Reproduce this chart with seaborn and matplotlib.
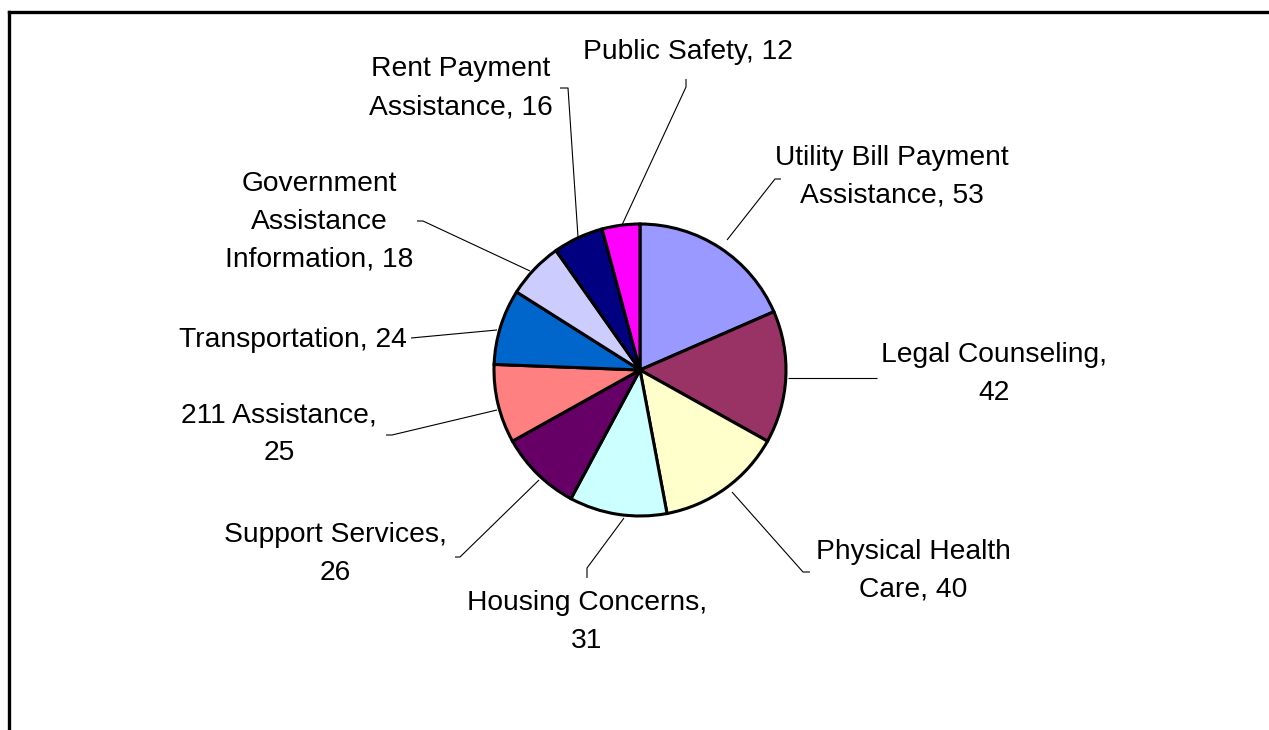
import matplotlib
matplotlib.use("Agg")
import matplotlib.pyplot as plt
import seaborn as sns

categories = ["Utility Bill Payment\nAssistance", "Legal Counseling,\n", "Physical Health\nCare",
              "Housing Concerns,\n", "Support Services,\n", "211 Assistance,\n",
              "Transportation", "Government\nAssistance\nInformation", "Rent Payment\nAssistance",
              "Public Safety"]
values = [53, 42, 40, 31, 26, 25, 24, 18, 16, 12]
colors = ["#9999FF", "#993366", "#FFFFCC", "#CCFFFF", "#660066", "#FF8080",
          "#0066CC", "#CCCCFF", "#000080", "#FF00FF"]

def label_text(cat, v):
    if cat.endswith(",\n"):
        return f"{cat}{v}"
    return f"{cat}, {v}"

# label layout (pixel positions, y from top), leader line points
label_pos = [(892, 177), (994, 374), (913, 571), (587, 622), (335, 554),
             (279, 434), (293, 340), (319, 222), (461, 88), (688, 52)]
leaders = [
    [(727, 240), (775, 179), (781, 179)],
    [(788, 378), (877, 378)],
    [(732, 492), (803, 572), (810, 572)],
    [(624, 518), (587, 568), (587, 578)],
    [(539, 480), (460, 557), (455, 557)],
    [(497, 410), (392, 435), (386, 435)],
    [(497, 330), (411, 338)],
    [(530, 271), (423, 221), (417, 221)],
    [(578, 237), (568, 88), (560, 88)],
    [(622, 225), (686, 87), (686, 79)],
]

sns.set_theme(style="white")
plt.rcParams["font.family"] = ["Liberation Sans", "DejaVu Sans"]

W, H = 1269, 730
fig = plt.figure(figsize=(W / 100, H / 100), dpi=100)
fig.patch.set_facecolor("white")
ax = fig.add_axes([0, 0, 1, 1])

ax.pie(values, colors=colors, startangle=90, counterclock=False,
       center=(640, H - 370), radius=146,
       wedgeprops=dict(edgecolor="black", linewidth=2.2), frame=False)
ax.set_xlim(0, W)
ax.set_ylim(0, H)
ax.set_aspect("equal")
ax.axis("off")

for pts in leaders:
    ax.plot([p[0] for p in pts], [H - p[1] for p in pts], color="black", lw=0.8,
            solid_capstyle="butt", zorder=1)

for cat, v, (x, y) in zip(categories, values, label_pos):
    ax.text(x, H - y, label_text(cat, v), ha="center", va="center",
            fontsize=20.3, linespacing=1.6, color="black")

# chart area border (left and top visible)
ax.plot([8.5, 8.5], [0, H - 11.5], color="black", lw=2.4, solid_capstyle="projecting")
ax.plot([8.5, W + 5], [H - 11.5, H - 11.5], color="black", lw=2.4, solid_capstyle="projecting")

fig.savefig("out.png", dpi=100, facecolor="white")
